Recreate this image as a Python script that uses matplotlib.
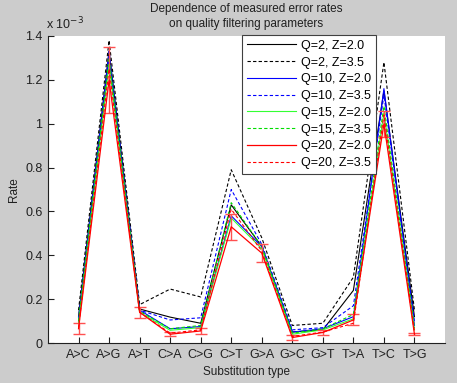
import numpy as np
import matplotlib
matplotlib.use("Agg")
import matplotlib.pyplot as plt
from matplotlib.ticker import FuncFormatter

plt.rcParams["font.family"] = ["Liberation Sans", "DejaVu Sans"]

subs = ["A>C", "A>G", "A>T", "C>A", "C>G", "C>T", "G>A", "G>C", "G>T", "T>A", "T>C", "T>G"]

# rates in units of 1e-3
q2_z20 = [0.12, 1.33, 0.155, 0.118, 0.09, 0.63, 0.44, 0.05, 0.06, 0.24, 1.15, 0.12]
q2_z35 = [0.15, 1.38, 0.175, 0.246, 0.21, 0.79, 0.48, 0.08, 0.09, 0.30, 1.28, 0.15]
q10_z20 = [0.10, 1.30, 0.15, 0.065, 0.075, 0.58, 0.44, 0.05, 0.065, 0.12, 1.16, 0.08]
q10_z35 = [0.11, 1.33, 0.15, 0.105, 0.115, 0.70, 0.45, 0.06, 0.07, 0.17, 1.13, 0.10]
q15_z20 = [0.09, 1.27, 0.14, 0.058, 0.07, 0.57, 0.43, 0.04, 0.06, 0.11, 1.05, 0.06]
q15_z35 = [0.10, 1.30, 0.145, 0.065, 0.08, 0.64, 0.44, 0.045, 0.065, 0.13, 1.08, 0.07]
q20_z20 = [0.065, 1.20, 0.14, 0.04, 0.055, 0.53, 0.41, 0.025, 0.048, 0.105, 1.00, 0.04]
q20_z35 = [0.07, 1.25, 0.14, 0.045, 0.06, 0.61, 0.42, 0.03, 0.05, 0.09, 1.04, 0.05]
q20_z20_err = [0.025, 0.15, 0.025, 0.008, 0.015, 0.06, 0.042, 0.01, 0.012, 0.025, 0.06, 0.005]

series = [
    ("Q=2, Z=2.0", q2_z20, "k", "-"),
    ("Q=2, Z=3.5", q2_z35, "k", "--"),
    ("Q=10, Z=2.0", q10_z20, "#0000ff", "-"),
    ("Q=10, Z=3.5", q10_z35, "#0000ff", "--"),
    ("Q=15, Z=2.0", q15_z20, "#33ff33", "-"),
    ("Q=15, Z=3.5", q15_z35, "#00dd00", "--"),
    ("Q=20, Z=2.0", q20_z20, "#ff0000", "-"),
    ("Q=20, Z=3.5", q20_z35, "#ff0000", "--"),
]

fig = plt.figure(figsize=(4.57, 3.83), dpi=100, facecolor="#cccccc")
ax = fig.add_axes([48 / 457, 1 - 343 / 383, 397 / 457, 307 / 383])
ax.set_facecolor("white")

x = np.arange(1, len(subs) + 1)
scale = 1e-3
handles = []
for label, vals, col, ls in series:
    y = np.array(vals) * scale
    dash = (3, 2) if ls == "--" else (None, None)
    if label == "Q=20, Z=2.0":
        ax.errorbar(x, y, yerr=np.array(q20_z20_err) * scale, fmt="none",
                    ecolor="#ff5050", elinewidth=1.0, capsize=4, capthick=1.0)
    h, = ax.plot(x, y, color=col, lw=0.9 if col == "#ff0000" and ls == "-" else 0.8,
                 dashes=dash, label=label)
    handles.append(h)

ax.set_xlim(0, 13)
ax.set_ylim(0, 1.4e-3)
ax.set_xticks(x)
ax.set_xticklabels(subs)
ax.set_yticks(np.arange(0, 1.41e-3, 0.2e-3))
ax.yaxis.set_major_formatter(FuncFormatter(lambda v, p: f"{v / scale:g}"))
ax.tick_params(direction="in", length=4, labelsize=9, colors="#202020", top=False, right=False, pad=4)
for s in ["top", "right"]:
    ax.spines[s].set_visible(False)
for s in ["left", "bottom"]:
    ax.spines[s].set_color("#202020")
    ax.spines[s].set_linewidth(0.8)

ax.text(-0.005, 1.012, r"x 10$^{-3}$", transform=ax.transAxes, fontsize=9, ha="left", va="bottom",
        color="#202020")
fig.text(246 / 457, 1 - 9 / 383, "Dependence of measured error rates", fontsize=8.5,
         ha="center", va="center", color="#202020")
fig.text(246 / 457, 1 - 24 / 383, "on quality filtering parameters", fontsize=8.5,
         ha="center", va="center", color="#202020")
ax.set_xlabel("Substitution type", fontsize=8.5, color="#202020", labelpad=4)
ax.set_ylabel("Rate", fontsize=8.5, color="#202020", labelpad=4)

leg = ax.legend(handles=handles, loc="upper left", bbox_to_anchor=(0.489, 1.004), borderaxespad=0,
                fontsize=9, fancybox=False, framealpha=1, edgecolor="#404040",
                handlelength=3.9, labelspacing=0.38, handletextpad=0.4, borderpad=0.4)
leg.get_frame().set_linewidth(0.8)
leg.set_zorder(10)

fig.savefig("out.png", dpi=100, facecolor=fig.get_facecolor())
